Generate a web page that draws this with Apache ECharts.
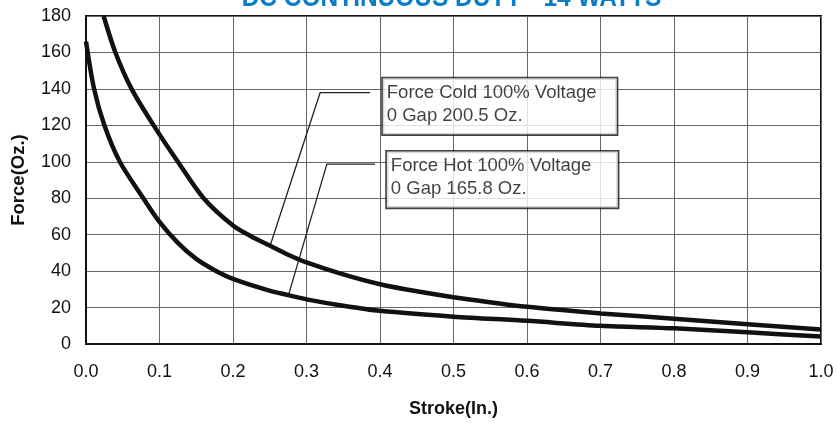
<!DOCTYPE html>
<html>
<head>
<meta charset="utf-8">
<script src="https://cdn.jsdelivr.net/npm/echarts@6/dist/echarts.min.js"></script>
<style>
html,body{margin:0;padding:0;background:#fff;}
#chart{width:837px;height:423px;}
</style>
</head>
<body>
<div id="chart"></div>
<script>
// ---- Data ----
const titleText = 'DC CONTINUOUS DUTY - 14 WATTS';
const xAxisName = 'Stroke(In.)';
const yAxisName = 'Force(Oz.)';

// Force Cold 100% Voltage (upper curve) [stroke, force]
const coldCurve = [
  [0.024,180],[0.040,160],[0.062,140],[0.092,120],[0.125,100],[0.160,80],
  [0.200,65],[0.225,59],[0.250,54],[0.275,49],[0.300,44.8],[0.350,38.2],
  [0.400,32.8],[0.450,28.9],[0.500,25.7],[0.600,20.4],[0.700,16.8],
  [0.800,13.9],[0.900,10.9],[1.000,7.9]
];
// Force Hot 100% Voltage (lower curve)
const hotCurve = [
  [0.000,166],[0.011,140],[0.025,120],[0.046,100],[0.078,80],[0.100,67],
  [0.125,55.5],[0.150,46.7],[0.175,40.5],[0.200,35.7],[0.246,29.7],
  [0.273,27],[0.300,24.5],[0.350,21],[0.400,18.2],[0.500,15],[0.600,12.7],
  [0.700,10],[0.800,8.6],[0.900,6.4],[1.000,4.1]
];
// leader lines from curves to annotation boxes
const coldLeader = [[0.2507,54.2],[0.3186,138],[0.3866,138]];
const hotLeader = [[0.2755,26.8],[0.3277,98.7],[0.3933,98.7]];
// annotation boxes: anchor (top-left) and text
const annotationAnchors = [[0.4038,145.8],[0.4093,105.6]];
const annotationTexts = [
  'Force Cold 100% Voltage\n0 Gap 200.5 Oz.',
  'Force Hot 100% Voltage\n0 Gap 165.8 Oz.'
];
const xMin = 0, xMax = 1, xStep = 0.1;
const yMin = 0, yMax = 180, yStep = 20;

// ---- Chart ----
const font = "'Liberation Sans', Arial, Helvetica, sans-serif";
const chart = echarts.init(document.getElementById('chart'), null, {renderer:'canvas'});
const curveStyle = {color:'#111', width:4.5};
const leaderStyle = {color:'#222', width:1.3};
const boxWidths = [226, 223];

chart.setOption({
  animation:false,
  backgroundColor:'#fff',
  graphic:[{
    type:'text', x:451.5, y:-1.4, scaleX:0.874, z:100,
    style:{
      text:titleText, fill:'#0b7dc4',
      font:"bold 28px 'Liberation Sans', Arial, sans-serif",
      align:'center', verticalAlign:'middle'
    }
  }],
  grid:{left:86, right:16, top:16, bottom:71, show:true, borderColor:'#111', borderWidth:2, containLabel:false},
  xAxis:{
    type:'value', min:xMin, max:xMax, interval:xStep,
    name:xAxisName, nameLocation:'middle', nameGap:56,
    nameTextStyle:{fontFamily:font, fontWeight:'bold', fontSize:18, color:'#111'},
    axisLine:{show:true, lineStyle:{color:'#111', width:2}},
    axisTick:{show:false},
    axisLabel:{fontFamily:font, fontSize:18, color:'#111', margin:19,
      formatter:v=>v.toFixed(1)},
    splitLine:{show:true, lineStyle:{color:'#666', width:1}}
  },
  yAxis:{
    type:'value', min:yMin, max:yMax, interval:yStep,
    name:yAxisName, nameLocation:'middle', nameGap:58, nameRotate:90,
    nameTextStyle:{fontFamily:font, fontWeight:'bold', fontSize:18.5, color:'#111'},
    axisLine:{show:true, lineStyle:{color:'#111', width:2}},
    axisTick:{show:false},
    axisLabel:{fontFamily:font, fontSize:18, color:'#111', margin:15},
    splitLine:{show:true, lineStyle:{color:'#666', width:1}}
  },
  series:[
    {type:'line', name:'Cold', data:coldCurve, smooth:0.3, showSymbol:false, lineStyle:curveStyle, z:5, clip:true},
    {type:'line', name:'Hot', data:hotCurve, smooth:0.3, showSymbol:false, lineStyle:curveStyle, z:5, clip:true},
    {type:'line', data:coldLeader, showSymbol:false, lineStyle:leaderStyle, z:4},
    {type:'line', data:hotLeader, showSymbol:false, lineStyle:leaderStyle, z:4},
    {
      type:'scatter', z:10, symbolSize:0, clip:false,
      data:annotationAnchors.map((p,i)=>({value:p, name:annotationTexts[i], label:{width:boxWidths[i]}})),
      label:{
        show:true, position:[0,0], formatter:p=>p.name,
        fontFamily:font, fontSize:18.5, color:'#111', lineHeight:23,
        backgroundColor:'#fff', borderColor:'#111', borderWidth:1.6,
        padding:[3,4,3,4], height:50, align:'left', verticalAlign:'top'
      }
    }
  ]
});
</script>
</body>
</html>
